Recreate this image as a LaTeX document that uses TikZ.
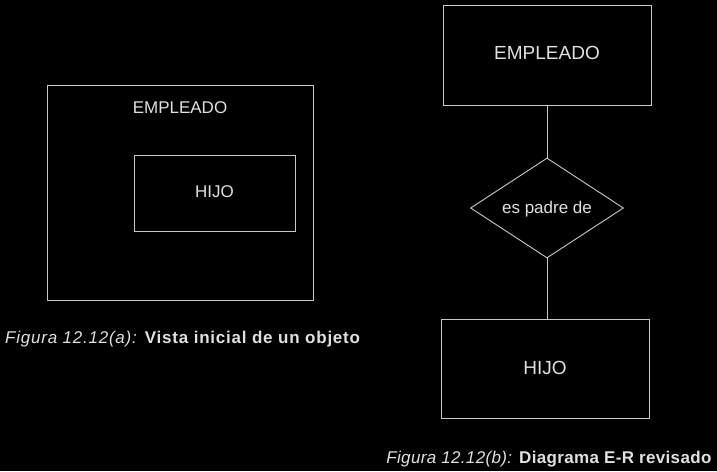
\documentclass[tikz,border=0pt]{standalone}
\usepackage{fontspec}
\setmainfont{Liberation Sans}
\usetikzlibrary{shapes.geometric}
\definecolor{ln}{HTML}{C8C8C8}
\definecolor{tx}{HTML}{E0E0E0}
\tikzset{
  ent/.style={draw=ln, line width=0.9pt, rectangle, inner sep=0pt},
  rel/.style={draw=ln, line width=0.9pt, diamond, inner sep=0pt},
  lbl/.style={text=tx, inner sep=0pt, font=\fontsize{17}{20}\selectfont},
  lblbig/.style={text=tx, inner sep=0pt, font=\fontsize{19}{22}\selectfont},
  captxt/.style={text=tx, inner sep=0pt, font=\fontsize{17}{20}\selectfont},
  conn/.style={draw=ln, line width=0.9pt}
}
\begin{document}
\begin{tikzpicture}[x=1pt,y=-1pt]
\fill[black] (0,0) rectangle (717,471);
\useasboundingbox (0,0) rectangle (717,471);
% left figure
\node[ent, minimum width=266pt, minimum height=215pt] (outer) at (180,192.5) {};
\node[lbl] (lemp) at (180,108) {EMPLEADO};
\node[ent, minimum width=161pt, minimum height=76pt] (inner) at (214.5,193) {};
\node[lbl] (lhijo) at (214.5,192) {HIJO};
\node[captxt, anchor=base west] (capa) at (5,343) {\addfontfeatures{LetterSpace=4.5}\textit{Figura 12.12(a):} \textbf{Vista inicial de un objeto}};
% right figure
\node[ent, minimum width=208pt, minimum height=100pt] (emp) at (547,55) {};
\node[lblbig] (remp) at (547,53) {EMPLEADO};
\node[rel, minimum width=153pt, minimum height=100pt] (padre) at (547,208) {};
\node[lbl] (rpadre) at (547,209) {es padre de};
\node[ent, minimum width=208pt, minimum height=99pt] (hijo) at (545,368.5) {};
\node[lblbig] (rhijo) at (545,368) {HIJO};
\draw[conn] (emp.south) -- (padre.north);
\draw[conn] (padre.south) -- (padre.south |- hijo.north);
\node[captxt, anchor=base east] (capb) at (712,463) {\addfontfeatures{LetterSpace=2}\textit{Figura 12.12(b):} \textbf{Diagrama E-R revisado}};
\end{tikzpicture}
\end{document}
